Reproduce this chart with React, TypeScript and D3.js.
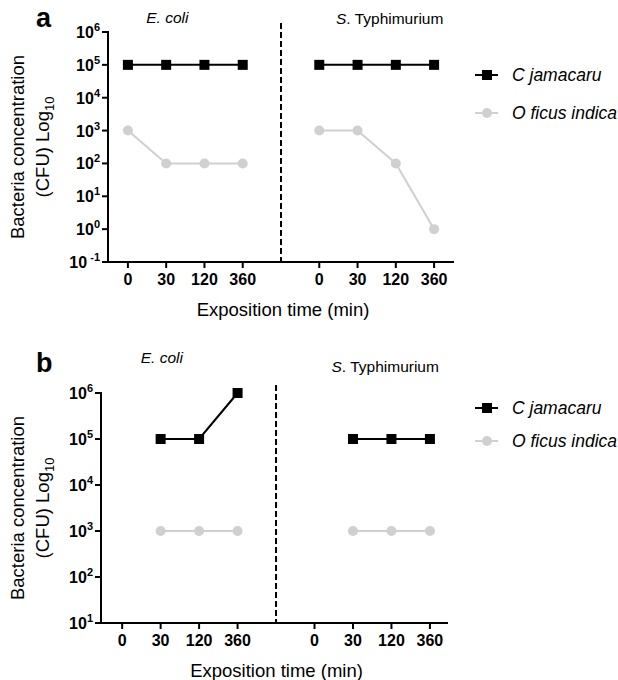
import React, { useRef, useEffect } from 'react';
import * as d3 from 'd3';

// x categories (minutes), repeated for each organism
const times = ['0', '30', '120', '360'];
const organisms = ['E. coli', 'S. Typhimurium'];
const seriesNames = ['C jamacaru', 'O ficus indica'];

// panel a values (CFU)
const aEcoliJamacaru = [1e5, 1e5, 1e5, 1e5];
const aEcoliFicus = [1e3, 1e2, 1e2, 1e2];
const aTyphiJamacaru = [1e5, 1e5, 1e5, 1e5];
const aTyphiFicus = [1e3, 1e3, 1e2, 1e0];

// panel b values (CFU), no value at time 0
const bEcoliJamacaru = [null, 1e5, 1e5, 1e6];
const bEcoliFicus = [null, 1e3, 1e3, 1e3];
const bTyphiJamacaru = [null, 1e5, 1e5, 1e5];
const bTyphiFicus = [null, 1e3, 1e3, 1e3];

const aExponents = [-1, 0, 1, 2, 3, 4, 5, 6];
const bExponents = [1, 2, 3, 4, 5, 6];

const FONT = "'Liberation Sans', Arial, sans-serif";
const GREY = '#d0d0d0';

type Panel = {
    letter: string;
    top: number;
    xRange: [number, number];
    xDomain: [number, number];
    yRange: [number, number];
    exps: number[];
    data: (number | null)[][][]; // [organism][series][time]
    titleY: [number, number];
    legendY: [number, number];
    dashTop: number;
};

const panels: Panel[] = [
    {
        letter: 'a', top: 27,
        xRange: [108, 454], xDomain: [-0.52, 8.52],
        yRange: [262, 32], exps: aExponents,
        data: [[aEcoliJamacaru, aEcoliFicus], [aTyphiJamacaru, aTyphiFicus]],
        titleY: [23, 24], legendY: [75, 113], dashTop: 23,
    },
    {
        letter: 'b', top: 372,
        xRange: [101, 448], xDomain: [-0.55, 8.47],
        yRange: [623, 393], exps: bExponents,
        data: [[bEcoliJamacaru, bEcoliFicus], [bTyphiJamacaru, bTyphiFicus]],
        titleY: [363, 372], legendY: [408, 441], dashTop: 385,
    },
];

const App = () => {
    const ref = useRef<SVGSVGElement>(null);

    useEffect(() => {
        const svg = d3.select(ref.current);
        svg.selectAll('*').remove();
        svg.attr('font-family', FONT);

        panels.forEach(p => {
            const g = svg.append('g');
            const exps = p.exps;
            const x = d3.scaleLinear().domain(p.xDomain).range(p.xRange);
            const y = d3.scaleLog()
                .domain([Math.pow(10, exps[0]), Math.pow(10, exps[exps.length - 1])])
                .range(p.yRange);
            const x0 = p.xRange[0];
            const yBottom = p.yRange[0];
            const yMid = (p.yRange[0] + p.yRange[1]) / 2;

            // positions: 4 times, gap, 4 times
            const pos = (org: number, i: number) => x(org * 5 + i);

            // y axis
            g.append('line')
                .attr('x1', x0).attr('x2', x0)
                .attr('y1', p.yRange[1] - 1).attr('y2', yBottom)
                .attr('stroke', '#000').attr('stroke-width', 2);
            exps.forEach(e => {
                const yy = y(Math.pow(10, e));
                g.append('line')
                    .attr('x1', x0 - 6).attr('x2', x0)
                    .attr('y1', yy).attr('y2', yy)
                    .attr('stroke', '#000').attr('stroke-width', 2);
                const t = g.append('text')
                    .attr('x', x0 - 8).attr('y', yy + 6)
                    .attr('text-anchor', 'end')
                    .attr('font-size', 16).attr('font-weight', 'bold');
                t.append('tspan').text('10');
                t.append('tspan').attr('dy', -7).attr('font-size', 11)
                    .text(e < 0 ? ' ' + e : String(e));
            });

            // x axis
            g.append('line')
                .attr('x1', x0 - 1).attr('x2', p.xRange[1])
                .attr('y1', yBottom).attr('y2', yBottom)
                .attr('stroke', '#000').attr('stroke-width', 2);
            organisms.forEach((_, o) => {
                times.forEach((lab, i) => {
                    const xx = pos(o, i);
                    g.append('line')
                        .attr('x1', xx).attr('x2', xx)
                        .attr('y1', yBottom).attr('y2', yBottom + 6)
                        .attr('stroke', '#000').attr('stroke-width', 2);
                    g.append('text')
                        .attr('x', xx).attr('y', yBottom + 23)
                        .attr('text-anchor', 'middle')
                        .attr('font-size', 16).attr('font-weight', 'bold')
                        .text(lab);
                });
            });

            // divider
            g.append('line')
                .attr('x1', x(4)).attr('x2', x(4))
                .attr('y1', p.dashTop).attr('y2', yBottom)
                .attr('stroke', '#000').attr('stroke-width', 2)
                .attr('stroke-dasharray', '6,3');

            // organism titles
            g.append('text')
                .attr('x', (pos(0, 0) + pos(0, 3)) / 2 - 18).attr('y', p.titleY[0])
                .attr('text-anchor', 'middle').attr('font-size', 15.5)
                .attr('font-style', 'italic').text(organisms[0]);
            const typhi = g.append('text')
                .attr('x', (pos(1, 0) + pos(1, 3)) / 2 + 13).attr('y', p.titleY[1])
                .attr('text-anchor', 'middle').attr('font-size', 15.5);
            typhi.append('tspan').attr('font-style', 'italic').text('S');
            typhi.append('tspan').text('. Typhimurium');

            // series
            const line = d3.line<[number, number | null]>()
                .defined(d => d[1] !== null)
                .x(d => d[0])
                .y(d => y(d[1] as number));

            p.data.forEach((orgData, o) => {
                orgData.forEach((vals, s) => {
                    const pts: [number, number | null][] = vals.map((v, i) => [pos(o, i), v]);
                    const color = s === 0 ? '#000' : GREY;
                    g.append('path')
                        .attr('d', line(pts))
                        .attr('fill', 'none')
                        .attr('stroke', color).attr('stroke-width', 2);
                    pts.filter(d => d[1] !== null).forEach(d => {
                        if (s === 0) {
                            g.append('rect')
                                .attr('x', d[0] - 5).attr('y', y(d[1] as number) - 5)
                                .attr('width', 10).attr('height', 10)
                                .attr('fill', '#000');
                        } else {
                            g.append('circle')
                                .attr('cx', d[0]).attr('cy', y(d[1] as number))
                                .attr('r', 5).attr('fill', GREY);
                        }
                    });
                });
            });

            // legend
            seriesNames.forEach((name, s) => {
                const ly = p.legendY[s];
                const color = s === 0 ? '#000' : GREY;
                g.append('line')
                    .attr('x1', 475).attr('x2', 498)
                    .attr('y1', ly).attr('y2', ly)
                    .attr('stroke', color).attr('stroke-width', 2);
                if (s === 0) {
                    g.append('rect')
                        .attr('x', 482).attr('y', ly - 5)
                        .attr('width', 10).attr('height', 10).attr('fill', '#000');
                } else {
                    g.append('circle')
                        .attr('cx', 487).attr('cy', ly).attr('r', 5).attr('fill', GREY);
                }
                g.append('text')
                    .attr('x', 512).attr('y', ly + 6)
                    .attr('font-size', 17.5).attr('font-style', 'italic')
                    .text(name);
            });

            // axis titles
            const yt = g.append('text')
                .attr('transform', `translate(24,${yMid}) rotate(-90)`)
                .attr('text-anchor', 'middle').attr('font-size', 18.5);
            yt.append('tspan').attr('x', 0).attr('dy', 0).text('Bacteria concentration');
            const l2 = yt.append('tspan').attr('x', 0).attr('dy', 25);
            l2.append('tspan').text('(CFU) Log');
            l2.append('tspan').attr('dy', 5).attr('font-size', 13).text('10');

            g.append('text')
                .attr('x', (p.xRange[0] + p.xRange[1]) / 2 + 2)
                .attr('y', yBottom + 54)
                .attr('text-anchor', 'middle').attr('font-size', 18.5)
                .text('Exposition time (min)');

            // panel letter
            g.append('text')
                .attr('x', 36).attr('y', p.top)
                .attr('font-size', 27).attr('font-weight', 'bold')
                .text(p.letter);
        });
    }, []);

    return (
        <svg ref={ref} width={618} height={680}
            style={{ position: 'absolute', left: 0, top: 0, background: '#fff' }} />
    );
};

export default App;
